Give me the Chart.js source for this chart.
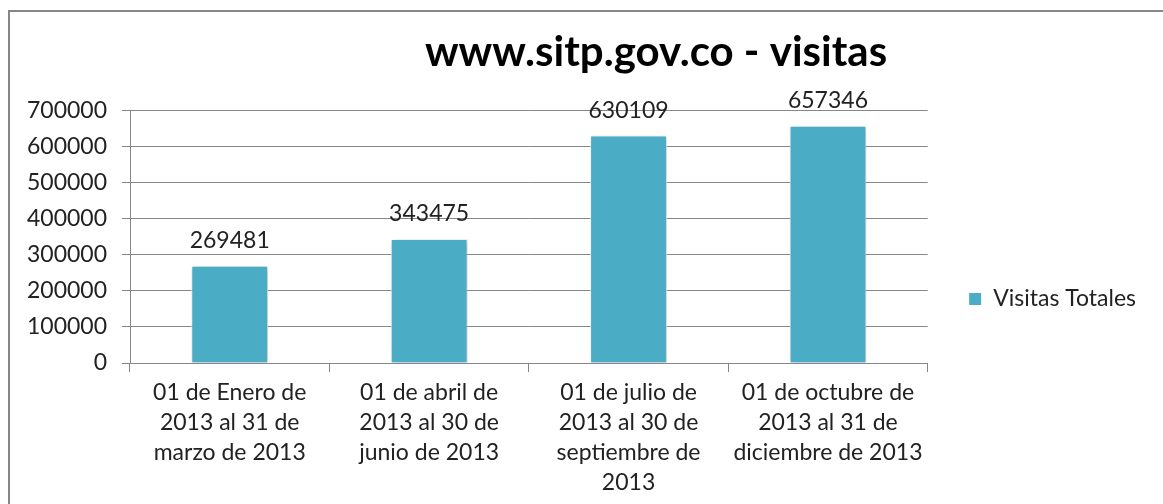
<!DOCTYPE html>
<html>
<head>
<meta charset="utf-8">
<script src="https://cdn.jsdelivr.net/npm/chart.js@4"></script>
<style>
  html, body { margin: 0; padding: 0; background: #fff; overflow: hidden; width: 1163px; height: 504px; }
  #frame { position: absolute; left: 8px; top: 10px; border: 2px solid #878787; width: 1292px; height: 574px; }
  canvas { display: block; }
</style>
</head>
<body>
<div id="frame"><canvas id="chart" width="1292" height="574"></canvas></div>
<script>
// Datos
const chartTitle = 'www.sitp.gov.co - visitas';
const seriesName = 'Visitas Totales';
const periods = [
    ['01 de Enero de', '2013 al 31 de', 'marzo de 2013'],
    ['01 de abril de', '2013 al 30 de', 'junio de 2013'],
    ['01 de julio de', '2013 al 30 de', 'septiembre de', '2013'],
    ['01 de octubre de', '2013 al 31 de', 'diciembre de 2013']
];
const visits = [269481, 343475, 630109, 657346];
const yTicks = [0, 100000, 200000, 300000, 400000, 500000, 600000, 700000];

const barColor = '#4BACC6';
const lineColor = '#878787';
const textColor = '#222';

Chart.defaults.font.family = 'Lato, "Open Sans", sans-serif';
Chart.defaults.color = textColor;

// sombra suave de las barras
const barShadow = {
    id: 'barShadow',
    beforeDatasetsDraw(chart) {
        const ctx = chart.ctx;
        ctx.save();
        ctx.shadowColor = 'rgba(0,0,0,0.28)';
        ctx.shadowBlur = 4;
        ctx.shadowOffsetX = 1;
        ctx.shadowOffsetY = 1;
    },
    afterDatasetsDraw(chart) {
        chart.ctx.restore();
    }
};

// etiquetas de valor encima de cada barra
const valueLabels = {
    id: 'valueLabels',
    afterDatasetsDraw(chart) {
        const ctx = chart.ctx;
        const meta = chart.getDatasetMeta(0);
        ctx.save();
        ctx.font = '23px Lato, "Open Sans", sans-serif';
        ctx.fillStyle = textColor;
        ctx.textAlign = 'center';
        ctx.textBaseline = 'alphabetic';
        meta.data.forEach((bar, i) => {
            ctx.fillText(String(chart.data.datasets[0].data[i]), bar.x, bar.y - 18);
        });
        ctx.restore();
    }
};

new Chart(document.getElementById('chart'), {
    type: 'bar',
    data: {
        labels: periods,
        datasets: [{
            label: seriesName,
            data: visits,
            backgroundColor: barColor,
            borderColor: '#ffffff',
            borderWidth: 1,
            barPercentage: 0.385,
            categoryPercentage: 1
        }]
    },
    options: {
        responsive: false,
        animation: false,
        layout: { padding: 0 },
        plugins: {
            title: {
                display: true,
                text: chartTitle,
                color: '#000',
                font: { size: 42, weight: 'bold' },
                padding: { top: 15, bottom: 33 }
            },
            legend: {
                position: 'right',
                labels: {
                    boxWidth: 13,
                    boxHeight: 13,
                    padding: 41,
                    color: textColor,
                    font: { size: 23 }
                }
            },
            tooltip: { enabled: false }
        },
        scales: {
            x: {
                grid: { offset: true, drawOnChartArea: false, tickLength: 9, color: lineColor },
                border: { color: lineColor },
                ticks: { padding: 6, font: { size: 23, lineHeight: 1.3 }, color: textColor, maxRotation: 0, autoSkip: false },
                afterFit(scale) { scale.height = 223; }
            },
            y: {
                min: 0,
                max: 700000,
                grid: { color: lineColor, tickLength: 8 },
                border: { color: lineColor },
                afterBuildTicks(scale) { scale.ticks = yTicks.map(v => ({ value: v })); },
                ticks: { padding: 15, font: { size: 23 }, color: textColor, callback: v => String(v) },
                afterFit(scale) { scale.width = 120; }
            },
            // espacio vacio a la derecha del marco (la leyenda queda junto al area)
            rightSpace: {
                type: 'linear',
                position: 'right',
                weight: 2000,
                grid: { display: false },
                border: { display: false },
                ticks: { display: false },
                afterFit(scale) { scale.width = 159; }
            }
        }
    },
    plugins: [barShadow, valueLabels]
});
</script>
</body>
</html>
